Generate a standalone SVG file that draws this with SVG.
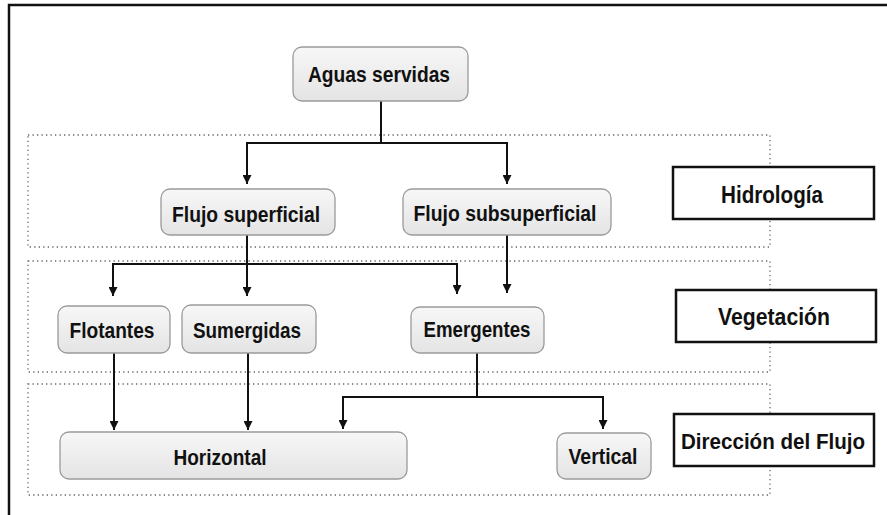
<svg xmlns="http://www.w3.org/2000/svg" width="887" height="515" viewBox="0 0 887 515">
<style>
.node rect{fill:url(#g);stroke:#9a9a9a;stroke-width:1.3}
.lab rect{fill:#fff;stroke:#111;stroke-width:2.5}
text{font-family:"Liberation Sans",Arial,sans-serif;font-weight:bold;font-size:22px;fill:#111;text-anchor:middle}
.lab text{font-size:24px}
.lab text.s{font-size:22px}
.region{fill:none;stroke:#666;stroke-width:1.3;stroke-dasharray:1.3 3.2}
.conn path{fill:none;stroke:#111;stroke-width:2;marker-end:url(#ah)}
.conn path.n{marker-end:none}
</style>
<defs>
<linearGradient id="g" x1="0" y1="0" x2="0" y2="1">
<stop offset="0" stop-color="#f7f7f7"/>
<stop offset="1" stop-color="#e4e4e4"/>
</linearGradient>
<marker id="ah" viewBox="0 0 10 10" refX="10" refY="5" markerWidth="10" markerHeight="9" orient="auto" markerUnits="userSpaceOnUse">
<path d="M0,0 L10,5 L0,10 z" fill="#111"/>
</marker>
</defs>
<rect width="887" height="515" fill="#fff"/>
<path d="M9,520 V5 H892" fill="none" stroke="#111" stroke-width="2.5"/>
<g id="regions">
<rect class="region" x="28" y="135" width="742" height="112"/>
<rect class="region" x="28" y="261" width="742" height="111"/>
<rect class="region" x="28" y="384" width="742" height="111"/>
</g>
<g id="connectors" class="conn">
<path class="n" d="M381,101 V143"/>
<path d="M381,143 H247 V184"/>
<path d="M381,143 H507 V184"/>
<path class="n" d="M247,235 V264"/>
<path d="M247,264 H113 V296"/>
<path d="M247,264 V296"/>
<path d="M247,264 H457 V294"/>
<path d="M507,235 V293"/>
<path d="M114,353 V430"/>
<path d="M248,353 V430"/>
<path class="n" d="M477,353 V397"/>
<path d="M477,397 H343 V429"/>
<path d="M477,397 H603 V429"/>
</g>
<g id="aguas" class="node"><rect x="293" y="47" width="175" height="54" rx="9"/><text x="379" y="82" textLength="142" lengthAdjust="spacingAndGlyphs">Aguas servidas</text></g>
<g id="flujo-superficial" class="node"><rect x="161" y="189" width="174" height="46" rx="9"/><text x="246" y="222" textLength="148" lengthAdjust="spacingAndGlyphs">Flujo superficial</text></g>
<g id="flujo-subsuperficial" class="node"><rect x="403" y="189" width="208" height="46" rx="9"/><text x="505" y="221" textLength="183" lengthAdjust="spacingAndGlyphs">Flujo subsuperficial</text></g>
<g id="flotantes" class="node"><rect x="58" y="306" width="112" height="47" rx="9"/><text x="112" y="338" textLength="85" lengthAdjust="spacingAndGlyphs">Flotantes</text></g>
<g id="sumergidas" class="node"><rect x="182" y="305" width="134" height="48" rx="9"/><text x="247" y="338" textLength="108" lengthAdjust="spacingAndGlyphs">Sumergidas</text></g>
<g id="emergentes" class="node"><rect x="411" y="307" width="133" height="46" rx="9"/><text x="477" y="337" textLength="107" lengthAdjust="spacingAndGlyphs">Emergentes</text></g>
<g id="horizontal" class="node"><rect x="60" y="432" width="347" height="47" rx="9"/><text x="220" y="465" textLength="93" lengthAdjust="spacingAndGlyphs">Horizontal</text></g>
<g id="vertical" class="node"><rect x="557" y="433" width="94" height="46" rx="9"/><text x="603" y="464" textLength="69" lengthAdjust="spacingAndGlyphs">Vertical</text></g>
<g id="hidrologia" class="lab"><rect x="673" y="167" width="201" height="52"/><text x="772" y="203" textLength="102" lengthAdjust="spacingAndGlyphs">Hidrología</text></g>
<g id="vegetacion" class="lab"><rect x="676" y="290" width="200" height="52"/><text x="774" y="325" textLength="112" lengthAdjust="spacingAndGlyphs">Vegetación</text></g>
<g id="direccion" class="lab"><rect x="674" y="414" width="200" height="52"/><text class="s" x="773" y="449" textLength="184" lengthAdjust="spacingAndGlyphs">Dirección del Flujo</text></g>
</svg>
